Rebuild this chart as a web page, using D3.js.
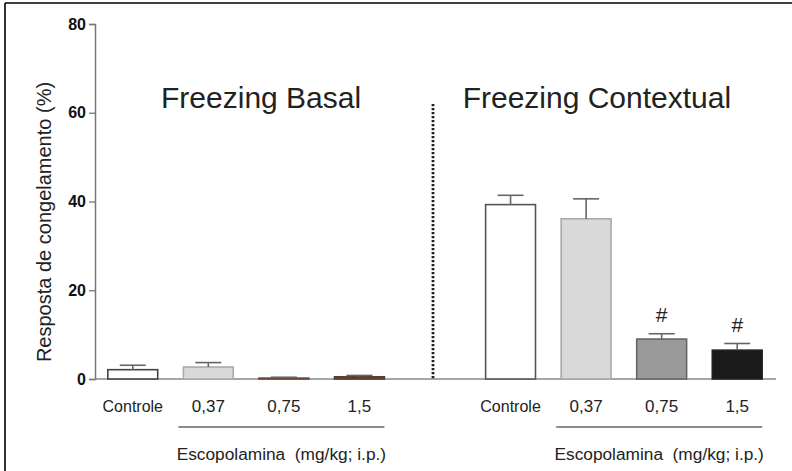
<!DOCTYPE html>
<html><head><meta charset="utf-8">
<script src="https://cdn.jsdelivr.net/npm/d3@7"></script>
<style>body{margin:0;background:#fff}svg{display:block}text{font-family:"Liberation Sans",Arial,sans-serif}</style>
</head><body>
<svg id="c" width="792" height="471"></svg>
<script>
const slots = ["b0","b1","b2","b3","gap","c0","c1","c2","c3"];
const categories = ["Controle","0,37","0,75","1,5"];
const basalMeans = [2.1, 2.7, 0.2, 0.5];
const basalSem = [1.0, 1.0, 0.2, 0.3];
const contextMeans = [39.3, 36.1, 9.0, 6.5];
const contextSem = [2.1, 4.5, 1.2, 1.5];
const contextMarks = ["", "", "#", "#"];
const yTicks = [0, 20, 40, 60, 80];
const panelTitles = ["Freezing Basal", "Freezing Contextual"];
const yLabel = "Resposta de congelamento (%)";
const groupLabel = "Escopolamina  (mg/kg; i.p.)";

const basalFill = ["#ffffff","#d9d9d9","#8a6a60","#6a463c"];
const basalStroke = ["#444","#aaa","#6a463c","#5a3a30"];
const ctxFill = ["#ffffff","#d9d9d9","#9a9a9a","#1a1a1a"];
const ctxStroke = ["#555","#a8a8a8","#666","#222"];

const svg = d3.select("#c");
// frame
svg.append("line").attr("x1",5).attr("x2",792).attr("y1",3).attr("y2",3).attr("stroke","#000").attr("stroke-width",1.6);
svg.append("line").attr("x1",5).attr("x2",5).attr("y1",3).attr("y2",471).attr("stroke","#000").attr("stroke-width",1.6);

const x = d3.scaleBand().domain(slots).range([95,775]).paddingInner(0.34).paddingOuter(0.17);
const y = d3.scaleLinear().domain([0,80]).range([379,24]);

// y axis
const yAxis = svg.append("g").attr("transform","translate(95,0)")
  .call(d3.axisLeft(y).tickValues(yTicks).tickSize(6).tickPadding(3));
yAxis.select(".domain").attr("stroke","#777").attr("stroke-width",1.5);
yAxis.selectAll(".tick line").attr("stroke","#777").attr("stroke-width",1.3);
yAxis.selectAll(".tick text").attr("font-size",16).attr("font-weight","bold").attr("fill","#111")
  .attr("font-family","'Liberation Sans',Arial,sans-serif");

// baseline
svg.append("line").attr("x1",95).attr("x2",776).attr("y1",y(0)).attr("y2",y(0)).attr("stroke","#888").attr("stroke-width",1.6);

function drawPanel(prefix, means, sems, fills, strokes, marks){
  const data = means.map((m,i)=>({key:prefix+i, m, s:sems[i], fill:fills[i], stroke:strokes[i], mark:marks?marks[i]:"", label:categories[i]}));
  const g = svg.append("g");
  g.selectAll("rect").data(data).join("rect")
    .attr("x",d=>x(d.key)).attr("width",x.bandwidth())
    .attr("y",d=>y(d.m)).attr("height",d=>Math.max(0.5,y(0)-y(d.m)))
    .attr("fill",d=>d.fill).attr("stroke",d=>d.stroke).attr("stroke-width",1.6);
  const cx = d=>x(d.key)+x.bandwidth()/2;
  g.selectAll("line.eb").data(data).join("line").attr("class","eb")
    .attr("x1",cx).attr("x2",cx).attr("y1",d=>y(d.m)).attr("y2",d=>y(d.m+d.s))
    .attr("stroke","#666").attr("stroke-width",1.6);
  g.selectAll("line.cap").data(data).join("line").attr("class","cap")
    .attr("x1",d=>cx(d)-13).attr("x2",d=>cx(d)+13).attr("y1",d=>y(d.m+d.s)).attr("y2",d=>y(d.m+d.s))
    .attr("stroke","#666").attr("stroke-width",1.6);
  g.selectAll("text.mk").data(data.filter(d=>d.mark)).join("text").attr("class","mk")
    .attr("x",cx).attr("y",d=>y(d.m+d.s)-12).attr("text-anchor","middle")
    .attr("font-size",21).attr("fill","#222").text(d=>d.mark);
  g.selectAll("text.cat").data(data).join("text").attr("class","cat")
    .attr("x",cx).attr("y",412).attr("text-anchor","middle")
    .attr("font-size",(d,i)=>i===0?16:17).attr("fill","#222").text(d=>d.label);
  // bracket
  const x1 = x(prefix+1)-5, x2 = x(prefix+3)+x.bandwidth();
  g.append("line").attr("x1",x1).attr("x2",x2).attr("y1",427).attr("y2",427).attr("stroke","#666").attr("stroke-width",1.5);
  g.append("text").attr("x",(x1+x2)/2).attr("y",460).attr("text-anchor","middle")
    .attr("font-size",17.3).attr("fill","#222").style("white-space","pre").text(groupLabel);
}
drawPanel("b", basalMeans, basalSem, basalFill, basalStroke, null);
drawPanel("c", contextMeans, contextSem, ctxFill, ctxStroke, contextMarks);

// divider
const dx = x("gap")+x.bandwidth()/2 - 2;
svg.append("line").attr("x1",dx).attr("x2",dx).attr("y1",104).attr("y2",y(0))
  .attr("stroke","#222").attr("stroke-width",2.8).attr("stroke-dasharray","2.2,1.8");

// titles
svg.append("text").attr("x",(x("b0")+x("b3")+x.bandwidth())/2+15).attr("y",108).attr("text-anchor","middle")
  .attr("font-size",30).attr("fill","#222").text(panelTitles[0]);
svg.append("text").attr("x",(x("c0")+x("c3")+x.bandwidth())/2-27).attr("y",108).attr("text-anchor","middle")
  .attr("font-size",30).attr("fill","#222").text(panelTitles[1]);

// y label
svg.append("text").attr("transform","translate(51,222) rotate(-90)").attr("text-anchor","middle")
  .attr("font-size",20).attr("fill","#222").text(yLabel);
</script>
</body></html>
